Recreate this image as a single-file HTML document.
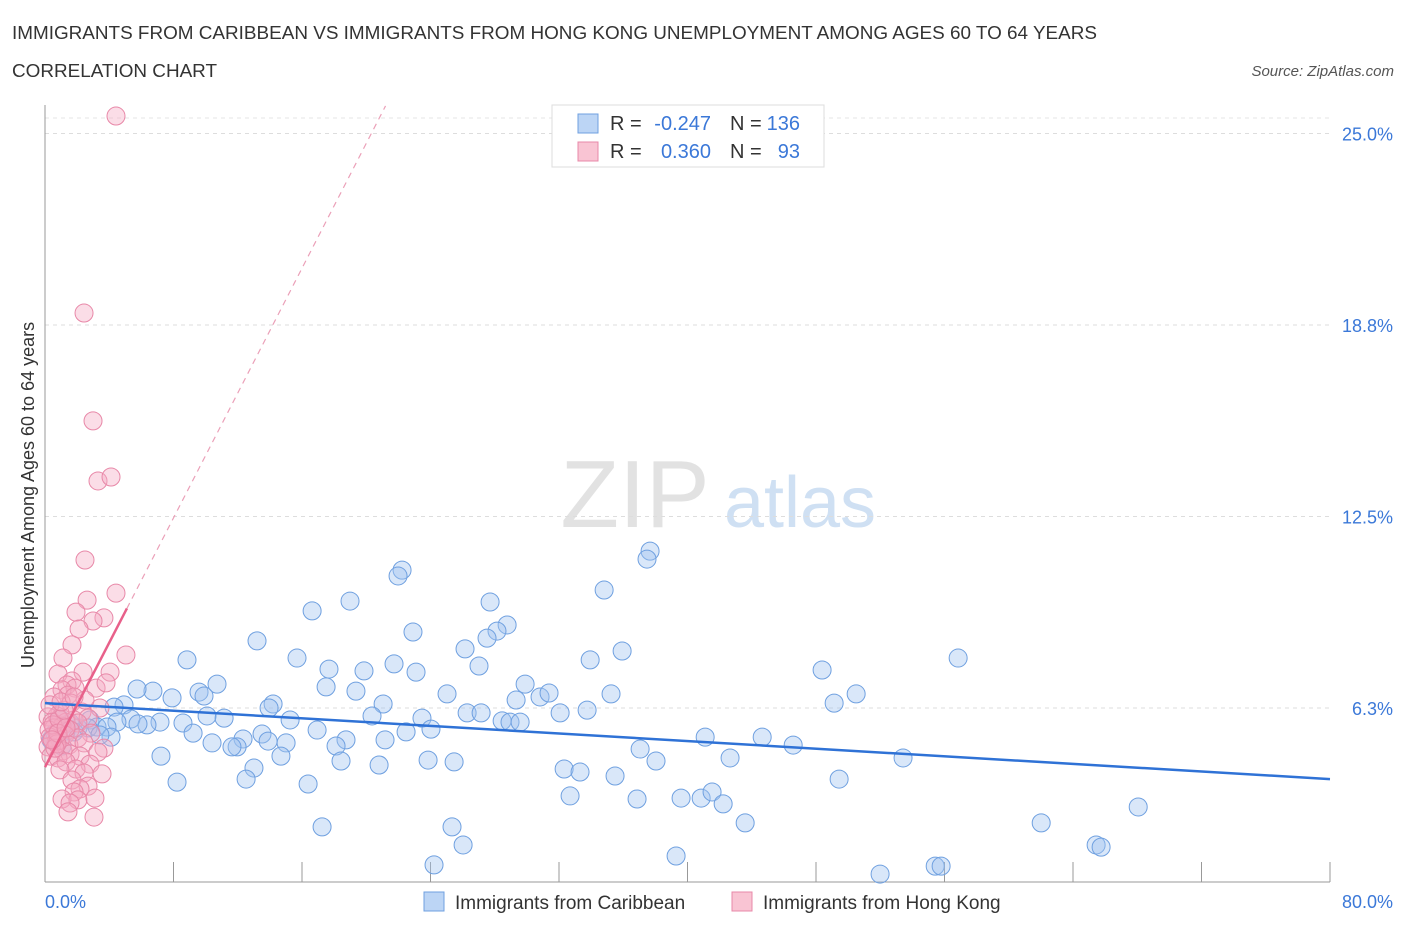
<!DOCTYPE html>
<html><head><meta charset="utf-8"><style>
body{margin:0;background:#fff;font-family:"Liberation Sans",sans-serif;}
svg text{font-family:"Liberation Sans",sans-serif;}
</style></head><body>
<svg id="c" width="1406" height="930" xmlns="http://www.w3.org/2000/svg">
<text x="12" y="39" font-size="18.9" fill="#333">IMMIGRANTS FROM CARIBBEAN VS IMMIGRANTS FROM HONG KONG UNEMPLOYMENT AMONG AGES 60 TO 64 YEARS</text>
<text x="12" y="77" font-size="18.9" fill="#333">CORRELATION CHART</text>
<text x="1394" y="76" font-size="15" fill="#555" font-style="italic" text-anchor="end">Source: ZipAtlas.com</text>
<g><text x="635" y="527" font-size="96" font-family="Liberation Serif" fill="#e2e2e2" text-anchor="middle">ZIP</text><text x="800" y="527" font-size="72" fill="#cfe0f3" text-anchor="middle">atlas</text></g>
<g id="grid"></g><g id="axes"></g><g id="pts"></g><g id="lines"></g>
<text transform="translate(34,495) rotate(-90)" font-size="18" fill="#333" text-anchor="middle">Unemployment Among Ages 60 to 64 years</text>
<g>
<rect x="552" y="105" width="272" height="62" fill="#fff" stroke="#ddd"/>
<rect x="578" y="114" width="20" height="19" fill="#bcd5f5" stroke="#6fa0e0"/>
<rect x="578" y="142" width="20" height="19" fill="#f9c4d3" stroke="#e888a8"/>
<text x="610" y="130" font-size="20" fill="#333">R =</text>
<text x="711" y="130" font-size="20" fill="#3b78d8" text-anchor="end">-0.247</text>
<text x="730" y="130" font-size="20" fill="#333">N =</text>
<text x="800" y="130" font-size="20" fill="#3b78d8" text-anchor="end">136</text>
<text x="610" y="158" font-size="20" fill="#333">R =</text>
<text x="711" y="158" font-size="20" fill="#3b78d8" text-anchor="end">0.360</text>
<text x="730" y="158" font-size="20" fill="#333">N =</text>
<text x="800" y="158" font-size="20" fill="#3b78d8" text-anchor="end">93</text>
</g>
<g>
<rect x="424" y="892" width="20" height="19" fill="#bcd5f5" stroke="#6fa0e0"/>
<text x="455" y="909" font-size="19" fill="#333">Immigrants from Caribbean</text>
<rect x="732" y="892" width="20" height="19" fill="#f9c4d3" stroke="#e888a8"/>
<text x="763" y="909" font-size="19" fill="#333">Immigrants from Hong Kong</text>
</g>
</svg>
<script>
const yTicks=[6.25,12.5,18.75,25];
const yTickLabels=["6.3%","12.5%","18.8%","25.0%"];
const xTickLabels=["0.0%","80.0%"];
const blueX=[37.67,37.48,22.23,21.98,34.81,18.99,16.63,27.71,28.77,28.14,27.52,22.91,13.20,26.15,35.93,33.94,8.84,15.69,27.02,17.68,19.86,21.73,23.10,48.38,56.85,29.89,17.50,10.71,9.59,6.72,5.73,7.91,9.90,19.36,25.03,30.82,31.38,35.24,29.33,50.50,49.13,4.92,4.30,21.05,14.20,13.95,26.28,27.15,32.07,33.75,20.36,10.09,11.15,15.26,23.47,28.46,28.95,29.58,5.35,7.16,8.59,6.35,4.48,5.79,2.80,2.05,3.24,3.86,9.22,16.94,24.03,22.48,18.74,13.51,12.33,11.96,11.64,10.40,15.01,13.89,21.17,18.12,4.11,41.10,44.65,46.58,37.05,7.22,14.69,38.04,42.65,53.42,18.43,23.85,25.47,20.80,13.01,32.32,33.31,35.49,12.52,8.22,49.44,16.38,32.69,36.86,39.60,40.85,41.53,42.22,43.59,17.25,25.34,68.06,62.02,26.03,65.44,65.75,39.29,24.22,55.42,55.79,51.99,0.93,1.56,1.31,0.62,1.81,1.06,0.37,2.68,3.42];
const blueY=[11.37,11.11,10.75,10.56,10.10,9.74,9.42,9.71,8.96,8.76,8.53,8.73,8.44,8.18,8.11,7.82,7.82,7.88,7.62,7.52,7.46,7.69,7.42,7.49,7.88,7.03,6.94,7.03,6.77,6.80,6.87,6.58,6.64,6.80,6.71,6.61,6.74,6.71,6.51,6.71,6.41,6.35,6.28,6.38,6.38,6.25,6.09,6.09,6.09,6.18,5.99,5.99,5.92,5.86,5.92,5.83,5.79,5.79,5.89,5.79,5.76,5.70,5.79,5.73,5.86,5.60,5.63,5.63,5.43,5.53,5.56,5.47,5.21,5.40,5.24,4.98,4.98,5.11,5.11,5.17,5.21,5.01,5.30,5.30,5.30,5.04,4.91,4.68,4.68,4.52,4.62,4.62,4.52,4.55,4.49,4.39,4.29,4.26,4.16,4.03,3.93,3.83,3.93,3.77,3.38,3.28,3.31,3.31,3.51,3.12,2.50,2.37,2.37,3.02,2.50,1.78,1.78,1.71,1.42,1.13,1.09,1.09,0.83,5.89,5.76,5.50,5.43,5.47,5.01,5.21,5.60,5.37];
const pinkX=[4.42,2.43,2.99,3.30,4.11,2.49,4.42,2.62,1.93,3.67,2.99,2.12,1.68,5.04,1.12,2.37,4.05,0.81,3.18,3.80,1.68,1.37,1.87,1.06,1.43,0.56,1.62,3.42,2.30,0.93,0.75,0.19,1.81,2.68,1.31,0.44,2.05,1.06,0.56,0.25,1.56,0.75,2.86,1.25,0.31,2.05,0.93,0.68,1.49,2.43,0.19,3.67,1.12,3.30,1.56,2.18,0.37,0.81,1.31,2.80,1.93,0.93,2.43,3.55,1.68,2.68,2.18,1.81,1.06,2.05,1.56,3.11,1.43,3.05,0.75,0.50,0.87,1.18,0.62,2.49,0.31,1.00,1.81,0.81,1.31,0.44];
const pinkY=[25.57,19.14,15.62,13.66,13.79,11.08,10.00,9.77,9.38,9.19,9.09,8.83,8.31,7.98,7.88,7.42,7.42,7.36,6.90,7.07,7.13,7.00,6.90,6.84,6.67,6.61,6.41,6.25,6.12,6.09,5.99,5.96,5.86,5.92,5.79,5.79,5.76,5.66,5.60,5.53,5.53,5.43,5.43,5.37,5.30,5.27,5.21,5.14,5.04,5.11,4.98,4.94,4.85,4.81,4.75,4.68,4.68,4.62,4.49,4.42,4.26,4.23,4.13,4.10,3.90,3.70,3.61,3.51,3.28,3.25,3.15,3.31,2.86,2.69,5.08,5.70,5.89,6.18,4.94,6.51,6.35,6.45,6.61,5.43,5.60,5.21];
const blueTrend=[[0,6.41],[80,3.93]];
const pinkTrendSolid=[[0,4.32],[5.1,9.5]];
const pinkTrendDash=[[5.1,9.5],[21.2,25.9]];

const NS="http://www.w3.org/2000/svg";
const X=v=>45+v*1285/80;
const Y=v=>899.5-v*191.5/6.25;
function mk(t,a,p){const e=document.createElementNS(NS,t);for(const k in a)e.setAttribute(k,a[k]);p.appendChild(e);return e;}
const grid=document.getElementById('grid'),axes=document.getElementById('axes'),pts=document.getElementById('pts'),lines=document.getElementById('lines');
yTicks.forEach((t,i)=>{
 const g=mk('line',{x1:45,x2:1330,y1:Y(t),y2:Y(t),stroke:'#ddd','stroke-dasharray':'4,4'},grid);
 
 
 const l=mk('text',{x:1393,y:Y(t)+7,'font-size':18,fill:'#3b78d8','text-anchor':'end'},axes);
 l.textContent=yTickLabels[i];
 
 
});
const topLine=mk('line',{x1:45,x2:1330,y1:118,y2:118,stroke:'#e4e4e4','stroke-dasharray':'4,4'},grid);


const ya=mk('line',{x1:45,x2:45,y1:105,y2:882,stroke:'#999'},axes);


const xa=mk('line',{x1:45,x2:1330,y1:882,y2:882,stroke:'#999'},axes);


for(let i=0;i<=10;i++){const t=mk('line',{x1:X(i*8),x2:X(i*8),y1:862,y2:882,stroke:'#999'},axes);
 
 }
const xl0=mk('text',{x:45,y:908,'font-size':18,fill:'#3b78d8'},axes);xl0.textContent=xTickLabels[0];


const xl1=mk('text',{x:1393,y:908,'font-size':18,fill:'#3b78d8','text-anchor':'end'},axes);xl1.textContent=xTickLabels[1];


blueX.forEach((v,i)=>{const c=mk('circle',{cx:X(v),cy:Y(blueY[i]),r:9,fill:'rgba(160,196,240,0.4)',stroke:'#6fa0e0','stroke-width':1},pts);
 
 });
pinkX.forEach((v,i)=>{const c=mk('circle',{cx:X(v),cy:Y(pinkY[i]),r:9,fill:'rgba(245,170,195,0.4)',stroke:'#e888a8','stroke-width':1},pts);
 
 });
const bl=mk('line',{x1:X(blueTrend[0][0]),y1:Y(blueTrend[0][1]),x2:X(blueTrend[1][0]),y2:Y(blueTrend[1][1]),stroke:'#2f72d6','stroke-width':2.5},lines);


const pl=mk('line',{x1:X(pinkTrendSolid[0][0]),y1:Y(pinkTrendSolid[0][1]),x2:X(pinkTrendSolid[1][0]),y2:Y(pinkTrendSolid[1][1]),stroke:'#e8608a','stroke-width':2.5},lines);


const pd=mk('line',{x1:X(pinkTrendDash[0][0]),y1:Y(pinkTrendDash[0][1]),x2:X(pinkTrendDash[1][0]),y2:Y(pinkTrendDash[1][1]),stroke:'#eba0b8','stroke-width':1.2,'stroke-dasharray':'6,5'},lines);


</script>
</body></html>
